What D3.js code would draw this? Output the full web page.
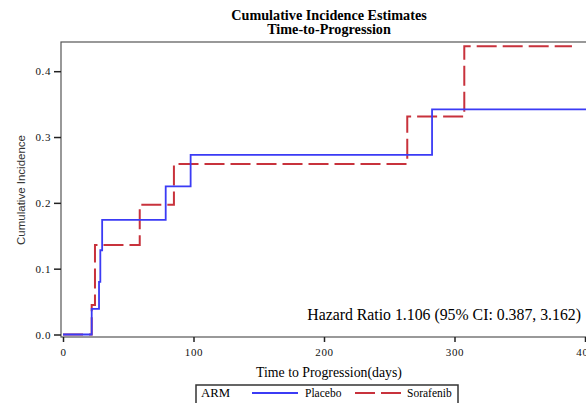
<!DOCTYPE html>
<html>
<head>
<meta charset="utf-8">
<script src="https://cdn.jsdelivr.net/npm/d3@7"></script>
<style>
  body { margin: 0; background: #fff; }
  svg { display: block; }
</style>
</head>
<body>
<div id="chart"></div>
<script>
// Step data: [days, cumulative incidence]
const placebo = [[0, 0], [22, 0.039], [27.6, 0.080], [28.6, 0.128], [30, 0.174],
                 [78.7, 0.225], [97.8, 0.273], [282.8, 0.342], [402, 0.342]];
const sorafenib = [[0, 0], [22, 0.045], [24.5, 0.136], [58.8, 0.197], [85, 0.259],
                   [263.8, 0.331], [307.5, 0.438], [390, 0.438]];
const xTicks = [0, 100, 200, 300, 400];
const yTicks = [0, 0.1, 0.2, 0.3, 0.4];
const titles = ["Cumulative Incidence Estimates", "Time-to-Progression"];
const hrText = "Hazard Ratio 1.106 (95% CI: 0.387, 3.162)";

const width = 586, height = 403;
const frame = { left: 61, top: 42, right: 600, bottom: 337 };

const svg = d3.select("#chart").append("svg")
    .attr("width", width)
    .attr("height", height);

// Scales
const x = d3.scaleLinear().domain([0, 400]).range([63, 585]);
const y = d3.scaleLinear().domain([0, 0.4]).range([334.5, 71.2]);

// Titles
svg.selectAll(".title")
    .data(titles)
    .enter().append("text")
    .attr("x", 329)
    .attr("y", (d, i) => 19.5 + i * 14.5)
    .attr("text-anchor", "middle")
    .style("font-family", "Liberation Serif, serif")
    .style("font-weight", "bold")
    .style("font-size", "14.2px")
    .text(d => d);

// Plot frame
svg.append("rect")
    .attr("x", frame.left)
    .attr("y", frame.top)
    .attr("width", frame.right - frame.left)
    .attr("height", frame.bottom - frame.top)
    .attr("fill", "none")
    .attr("stroke", "#555")
    .attr("stroke-width", 1.2);

// Axes
const xAxis = svg.append("g")
    .attr("transform", `translate(0,${frame.bottom})`)
    .call(d3.axisBottom(x).tickValues(xTicks).tickSize(5).tickPadding(6).tickFormat(d3.format("d")));
const yAxis = svg.append("g")
    .attr("transform", `translate(${frame.left},0)`)
    .call(d3.axisLeft(y).tickValues(yTicks).tickSize(7).tickPadding(3).tickFormat(d3.format(".1f")));

[xAxis, yAxis].forEach(g => {
    g.select(".domain").remove();
    g.selectAll(".tick line").attr("stroke", "#222").attr("stroke-width", 1.5);
    g.selectAll(".tick text")
        .style("font-family", "Liberation Serif, serif")
        .style("font-size", "11px")
        .style("letter-spacing", "0.6px")
        .attr("fill", "#111");
});

// Axis labels
svg.append("text")
    .attr("x", 329)
    .attr("y", 377)
    .attr("text-anchor", "middle")
    .style("font-family", "Liberation Serif, serif")
    .style("font-size", "13.8px")
    .text("Time to Progression(days)");

svg.append("text")
    .attr("transform", "translate(25,190) rotate(-90)")
    .attr("text-anchor", "middle")
    .style("font-family", "Liberation Sans, sans-serif")
    .style("font-size", "11.5px")
    .attr("fill", "#333")
    .text("Cumulative Incidence");

// Step lines
const line = d3.line()
    .x(d => x(d[0]))
    .y(d => y(d[1]))
    .curve(d3.curveStepAfter);

svg.append("path")
    .datum(sorafenib)
    .attr("d", line)
    .attr("fill", "none")
    .attr("stroke", "#c8323c")
    .attr("stroke-width", 2)
    .attr("stroke-dasharray", "20,6");

svg.append("path")
    .datum(placebo)
    .attr("d", line)
    .attr("fill", "none")
    .attr("stroke", "#3b3bf5")
    .attr("stroke-width", 1.8);

// Hazard ratio annotation
svg.append("text")
    .attr("x", 581)
    .attr("y", 320)
    .attr("text-anchor", "end")
    .style("font-family", "Liberation Serif, serif")
    .style("font-size", "15.8px")
    .text(hrText);

// Legend
const legend = svg.append("g");
legend.append("rect")
    .attr("x", 196)
    .attr("y", 385)
    .attr("width", 262)
    .attr("height", 24)
    .attr("fill", "none")
    .attr("stroke", "#333")
    .attr("stroke-width", 1.5);

legend.append("text")
    .attr("x", 201)
    .attr("y", 397)
    .style("font-family", "Liberation Serif, serif")
    .style("font-size", "12.8px")
    .text("ARM");

const legendItems = [
    { name: "Placebo", color: "#3b3bf5", dash: null, x0: 252, x1: 298, tx: 305 },
    { name: "Sorafenib", color: "#c8323c", dash: "20,6", x0: 355, x1: 403, tx: 407 }
];
legendItems.forEach(d => {
    legend.append("line")
        .attr("x1", d.x0).attr("x2", d.x1)
        .attr("y1", 393).attr("y2", 393)
        .attr("stroke", d.color)
        .attr("stroke-width", 2)
        .attr("stroke-dasharray", d.dash);
    legend.append("text")
        .attr("x", d.tx)
        .attr("y", 397)
        .style("font-family", "Liberation Serif, serif")
        .style("font-size", "11.5px")
        .text(d.name);
});
</script>
</body>
</html>
